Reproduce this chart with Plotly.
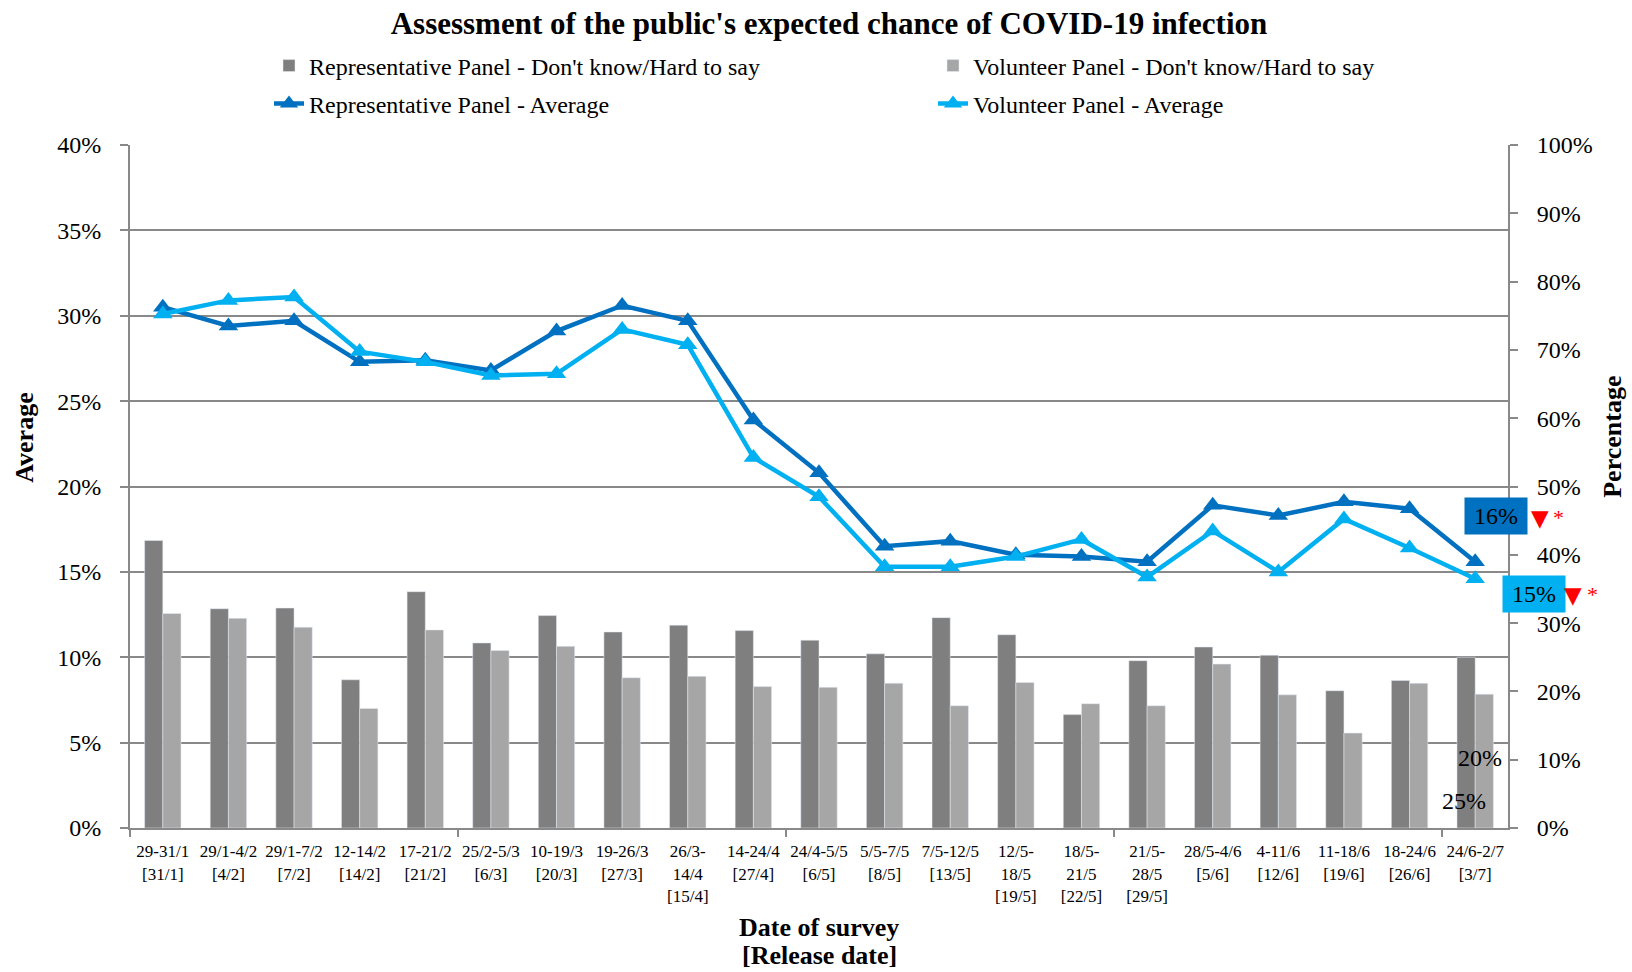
import plotly.graph_objects as go

# ---------------- data ----------------
survey_dates = ["29-31/1", "29/1-4/2", "29/1-7/2", "12-14/2", "17-21/2", "25/2-5/3",
                "10-19/3", "19-26/3", "26/3-<br>14/4", "14-24/4", "24/4-5/5", "5/5-7/5",
                "7/5-12/5", "12/5-<br>18/5", "18/5-<br>21/5", "21/5-<br>28/5", "28/5-4/6",
                "4-11/6", "11-18/6", "18-24/6", "24/6-2/7"]
release_dates = ["31/1", "4/2", "7/2", "14/2", "21/2", "6/3", "20/3", "27/3", "15/4", "27/4",
                 "6/5", "8/5", "13/5", "19/5", "22/5", "29/5", "5/6", "12/6", "19/6", "26/6", "3/7"]

# Average expected chance (left axis, %)
rep_avg = [30.5, 29.4, 29.7, 27.3, 27.4, 26.8, 29.1, 30.6, 29.7, 23.9, 20.8,
           16.5, 16.8, 16.0, 15.9, 15.6, 18.9, 18.3, 19.1, 18.7, 15.6]
vol_avg = [30.1, 30.9, 31.1, 27.9, 27.3, 26.5, 26.6, 29.2, 28.3, 21.7, 19.4,
           15.3, 15.3, 15.9, 16.9, 14.7, 17.4, 15.0, 18.1, 16.4, 14.6]

# Don't know / Hard to say (right axis, %)
rep_dk = [42.1, 32.1, 32.2, 21.7, 34.6, 27.1, 31.1, 28.7, 29.7, 28.9, 27.5,
          25.5, 30.8, 28.3, 16.6, 24.5, 26.5, 25.3, 20.1, 21.6, 25.0]
vol_dk = [31.4, 30.7, 29.4, 17.5, 29.0, 26.0, 26.6, 22.0, 22.2, 20.7, 20.6,
          21.2, 17.9, 21.3, 18.2, 17.9, 24.0, 19.5, 13.9, 21.2, 19.6]

names = ["Representative Panel - Don't know/Hard to say",
         "Volunteer Panel - Don't know/Hard to say",
         "Representative Panel - Average",
         "Volunteer Panel - Average"]

# ---------------- style ----------------
FONT = "Liberation Serif"
GRID = "#898989"
C_REP_BAR, C_VOL_BAR = "#7F7F7F", "#A6A6A6"
C_REP_LINE, C_VOL_LINE = "#0070C0", "#00B0F0"

W, H = 1632, 972
PL, PR, PT, PB = 130, 1508, 145, 828.5   # plot area in page pixels
ML, MR, MT, MB = PL, W - PR, PT, H - PB
PW, PH = PR - PL, PB - PT


def px_x(px):   # page px -> paper x
    return (px - PL) / PW


def px_y(py):   # page px -> paper y
    return (PB - py) / PH


idx = list(range(len(survey_dates)))
ticktext = [f"{s}<br>[{r}]" for s, r in zip(survey_dates, release_dates)]

fig = go.Figure()

fig.add_trace(go.Bar(x=idx, y=rep_dk, name=names[0], marker_color=C_REP_BAR,
                     yaxis="y2", legend="legend"))
fig.add_trace(go.Bar(x=idx, y=vol_dk, name=names[1], marker_color=C_VOL_BAR,
                     yaxis="y2", legend="legend2"))
fig.add_trace(go.Scatter(x=idx, y=rep_avg, name=names[2], mode="lines+markers",
                         line=dict(color=C_REP_LINE, width=4.5),
                         marker=dict(symbol="triangle-up", size=17, color=C_REP_LINE),
                         yaxis="y", legend="legend3"))
fig.add_trace(go.Scatter(x=idx, y=vol_avg, name=names[3], mode="lines+markers",
                         line=dict(color=C_VOL_LINE, width=4.5),
                         marker=dict(symbol="triangle-up", size=17, color=C_VOL_LINE),
                         yaxis="y", legend="legend4"))


def leg(xpx, ypx):
    return dict(xref="container", yref="container", x=xpx / W, y=1 - ypx / H,
                xanchor="left", yanchor="middle", orientation="h",
                bgcolor="rgba(0,0,0,0)", font=dict(family=FONT, size=24, color="black"))


def ann(text, xpx, ypx, size=24, color="black", family=FONT, **kw):
    return dict(text=text, xref="paper", yref="paper", x=px_x(xpx), y=px_y(ypx),
                xanchor="center", yanchor="middle", showarrow=False,
                font=dict(family=family, size=size, color=color), **kw)


annotations = [
    # axis titles
    ann("<b>Average</b>", 25, 438, size=26, textangle=-90),
    ann("<b>Percentage</b>", 1613, 437, size=26, textangle=-90),
    ann("<b>Date of survey</b>", 819, 928, size=26),
    ann("<b>[Release date]</b>", 819, 956, size=26),
    # last-value callouts
    ann(f"{rep_avg[-1]:.0f}%", 1495.5, 516, bgcolor=C_REP_LINE, width=60, height=34),
    ann(f"{vol_avg[-1]:.0f}%", 1533.5, 594.5, bgcolor=C_VOL_LINE, width=60, height=34),
    ann("▼", 1540, 518, size=23, color="#FF0000", family="DejaVu Sans"),
    ann("*", 1559, 518, size=22, color="#FF0000"),
    ann("▼", 1573, 595, size=23, color="#FF0000", family="DejaVu Sans"),
    ann("*", 1592, 595, size=22, color="#FF0000"),
    # data labels of last bars
    dict(text=f"{vol_dk[-1]:.0f}%", xref="x", yref="y2", x=idx[-1] + 0.08, y=10.2,
         xanchor="center", yanchor="middle",
         showarrow=False, font=dict(family=FONT, size=24, color="black")),
    dict(text=f"{rep_dk[-1]:.0f}%", xref="x", yref="y2", x=idx[-1] - 0.17, y=3.9,
         xanchor="center", yanchor="middle",
         showarrow=False, font=dict(family=FONT, size=24, color="black")),
]

fig.update_layout(
    width=W, height=H,
    margin=dict(l=ML, r=MR, t=MT, b=MB, autoexpand=False),
    paper_bgcolor="white", plot_bgcolor="white",
    font=dict(family=FONT, color="black"),
    title=dict(text="<b>Assessment of the public's expected chance of COVID-19 infection</b>",
               x=829 / W, xanchor="center", xref="container",
               y=1 - 23 / H, yanchor="middle", yref="container",
               font=dict(family=FONT, size=31, color="black")),
    barmode="group", bargap=0.445, bargroupgap=0,
    showlegend=True,
    legend=leg(269, 66), legend2=leg(933, 66),
    legend3=leg(269, 104), legend4=leg(933, 104),
    xaxis=dict(range=[-0.5, len(idx) - 0.5], tickmode="array", tickvals=idx, ticktext=ticktext,
               ticks="", showgrid=False, showline=True, linecolor=GRID, linewidth=2,
               ticklabelstandoff=7,
               tickfont=dict(family=FONT, size=17, color="black"),
               minor=dict(tickmode="array", tickvals=[-0.5, 4.5, 9.5, 14.5, 19.5],
                          ticks="outside", ticklen=7, tickcolor=GRID, tickwidth=2,
                          showgrid=False),
               zeroline=False, fixedrange=True),
    yaxis=dict(range=[0, 40], dtick=5, ticksuffix="%", side="left",
               showgrid=True, gridcolor=GRID, gridwidth=2,
               showline=True, linecolor=GRID, linewidth=2,
               ticks="outside", ticklen=8, tickcolor=GRID, tickwidth=2,
               ticklabelstandoff=14,
               tickfont=dict(family=FONT, size=24, color="black"), zeroline=False),
    yaxis2=dict(range=[0, 100], dtick=10, ticksuffix="%", side="right", overlaying="y",
                showgrid=False, showline=True, linecolor=GRID, linewidth=2,
                ticks="outside", ticklen=8, tickcolor=GRID, tickwidth=2,
                ticklabelstandoff=14,
                tickfont=dict(family=FONT, size=24, color="black"), zeroline=False),
    annotations=annotations,
)

fig.write_html("out.html", config={"displayModeBar": False},
               post_script="document.body.style.margin='0';")
